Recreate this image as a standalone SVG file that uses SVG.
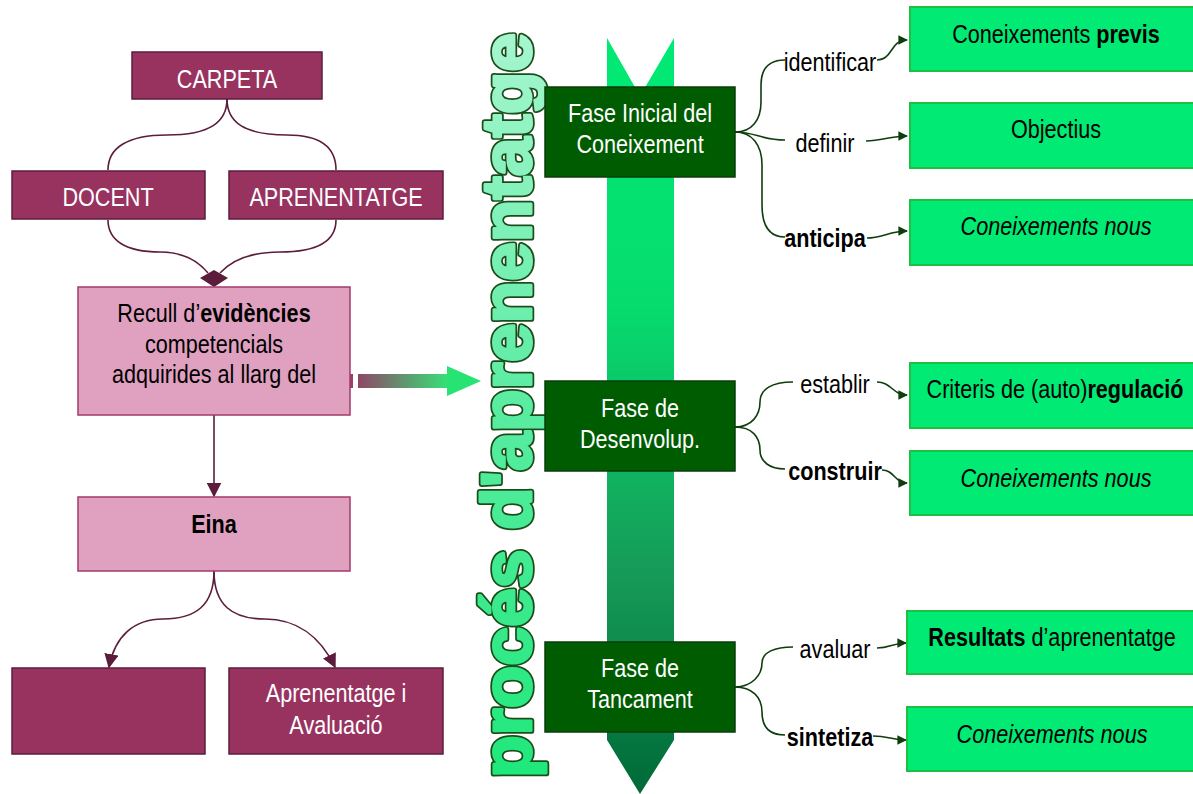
<svg xmlns="http://www.w3.org/2000/svg" xmlns:xlink="http://www.w3.org/1999/xlink" width="1193" height="794" viewBox="0 0 1193 794">
  <style>
    .t { font-family: "Liberation Sans", Arial, sans-serif; font-size: 25px; text-anchor: middle; }
    .w { fill: #ffffff; }
    .k { fill: #000000; }
    .b { font-weight: bold; }
    .i { font-style: italic; }
    .purple { fill: #98335f; stroke: #5c1d3c; stroke-width: 1.5; }
    .pink { fill: #e0a1c0; stroke: #a33a6b; stroke-width: 1.5; }
    .phase { fill: #005c00; stroke: #0b3d0b; stroke-width: 1.5; }
    .gbox { fill: #00ea74; stroke: #1fbf45; stroke-width: 2; }
    .pc { fill: none; stroke: #5c1d3c; stroke-width: 1.6; }
    .gc { fill: none; stroke: #0f3d0f; stroke-width: 1.6; }
    .title-outline { fill: #1b4d1b; stroke: #1b4d1b; stroke-width: 6.5; stroke-linejoin: round; }
    .title-fill { fill: url(#title); stroke: url(#title); stroke-width: 3; stroke-linejoin: round; }
  </style>
  <defs>
    <marker id="mp" viewBox="0 0 10 10" refX="9" refY="5" markerWidth="9" markerHeight="9" markerUnits="strokeWidth" orient="auto">
      <path d="M0,0 L10,5 L0,10 Z" fill="#5c1d3c"/>
    </marker>
    <marker id="mg" viewBox="0 0 10 10" refX="9" refY="5" markerWidth="6" markerHeight="6" markerUnits="strokeWidth" orient="auto">
      <path d="M0,0 L10,5 L0,10 Z" fill="#0f3d0f"/>
    </marker>
    <linearGradient id="shaft" gradientUnits="userSpaceOnUse" x1="0" y1="38" x2="0" y2="794">
      <stop offset="0" stop-color="#00ea74"/>
      <stop offset="0.35" stop-color="#06dc6e"/>
      <stop offset="0.7" stop-color="#169c58"/>
      <stop offset="1" stop-color="#006a38"/>
    </linearGradient>
    <linearGradient id="bar" gradientUnits="userSpaceOnUse" x1="358" y1="0" x2="447" y2="0">
      <stop offset="0" stop-color="#8e4766"/>
      <stop offset="1" stop-color="#38de78"/>
    </linearGradient>
    <linearGradient id="title" gradientUnits="userSpaceOnUse" x1="0" y1="0" x2="751" y2="0">
      <stop offset="0" stop-color="#1ee87a"/>
      <stop offset="0.5" stop-color="#5aeca2"/>
      <stop offset="1" stop-color="#a6f6cf"/>
    </linearGradient>
    <text id="titleText" x="3" y="0" textLength="745" lengthAdjust="spacingAndGlyphs" font-family="Liberation Sans, Arial, sans-serif" font-weight="bold" font-size="71">procés d'aprenentatge</text>
  </defs>

  <!-- central process arrow -->
  <polygon points="607,38 640,96 674,38 674,740 640,794 607,740" fill="url(#shaft)"/>

  <!-- vertical title: dark outline layer under a widened gradient layer -->
  <g id="title-vertical" transform="translate(531 781) rotate(-90)">
    <use xlink:href="#titleText" class="title-outline"/>
    <use xlink:href="#titleText" class="title-fill"/>
  </g>

  <!-- transfer arrow -->
  <g id="transfer">
    <rect x="337" y="374" width="3" height="14" fill="#9c3060"/>
    <rect x="345" y="374" width="8" height="14" fill="#9d3f66"/>
    <rect x="358" y="374" width="90" height="14" fill="url(#bar)"/>
    <polygon points="447,366 481,381 447,396" fill="#26e374"/>
  </g>

  <g id="connectors">
    <!-- left side -->
    <path class="pc" d="M227,99 C227,122 210,135 167,135 C127,135 108,148 108,170"/>
    <path class="pc" d="M227,99 C227,122 244,135 287,135 C322,135 336,148 336,170"/>
    <path class="pc" d="M108,220 C108,240 125,252 160,252 C185,252 199,262 208,273"/>
    <path class="pc" d="M336,220 C336,240 320,252 280,252 C248,252 230,262 220,273"/>
    <path d="M214,270 L228,278 L214,287 L200,278 Z" fill="#5c1d3c"/>
    <path class="pc" d="M214,415 L214,496" marker-end="url(#mp)"/>
    <path class="pc" d="M214,571 C214,605 196,619 163,619 C134,619 115,636 109,667" marker-end="url(#mp)"/>
    <path class="pc" d="M214,571 C214,605 232,619 265,619 C296,619 320,636 335,667" marker-end="url(#mp)"/>
    <!-- phase 1 -->
    <path class="gc" d="M735,132 C752,132 761,120 761,102 L761,85 C761,68 770,60 785,60"/>
    <path class="gc" d="M735,132 C755,132 762,140 785,140"/>
    <path class="gc" d="M735,132 C752,132 762,145 762,165 L762,205 C762,226 770,237 785,237"/>
    <path class="gc" d="M877,60 C893,60 890,40 907,40" marker-end="url(#mg)"/>
    <path class="gc" d="M866,141 C882,141 890,136 907,136" marker-end="url(#mg)"/>
    <path class="gc" d="M867,238 C882,238 890,231 907,231" marker-end="url(#mg)"/>
    <!-- phase 2 -->
    <path class="gc" d="M735,427 C752,427 760,415 760,402 C760,389 772,382 793,382"/>
    <path class="gc" d="M735,427 C752,427 760,437 760,450 C760,462 770,469 785,469"/>
    <path class="gc" d="M877,382 C891,382 893,395 907,395" marker-end="url(#mg)"/>
    <path class="gc" d="M882,470 C894,470 895,483 907,483" marker-end="url(#mg)"/>
    <!-- phase 3 -->
    <path class="gc" d="M735,687 C752,687 762,675 762,663 C762,652 775,647 793,647"/>
    <path class="gc" d="M735,687 C752,687 762,697 762,712 C762,727 770,735 785,735"/>
    <path class="gc" d="M877,648 C890,648 893,643 906,643" marker-end="url(#mg)"/>
    <path class="gc" d="M873,736 C888,736 892,740 906,740" marker-end="url(#mg)"/>
  </g>

  <!-- left column -->
  <g id="carpeta">
    <rect class="purple" x="132" y="52" width="190" height="47"/>
    <text class="t w" transform="translate(227 88) scale(.864 1)">CARPETA</text>
  </g>
  <g id="docent">
    <rect class="purple" x="12" y="171" width="193" height="48"/>
    <text class="t w" transform="translate(108 206) scale(.864 1)">DOCENT</text>
  </g>
  <g id="aprenentatge">
    <rect class="purple" x="229" y="171" width="214" height="48"/>
    <text class="t w" transform="translate(336 206) scale(.864 1)">APRENENTATGE</text>
  </g>
  <g id="recull">
    <rect class="pink" x="78" y="287" width="272" height="128"/>
    <text class="t k" transform="translate(214 322) scale(.864 1)">Recull d’<tspan class="b">evidències</tspan></text>
    <text class="t k" transform="translate(214 353) scale(.864 1)">competencials</text>
    <text class="t k" transform="translate(214 383) scale(.864 1)">adquirides al llarg del</text>
  </g>
  <g id="eina">
    <rect class="pink" x="78" y="497" width="272" height="74"/>
    <text class="t k b" transform="translate(214 533) scale(.864 1)">Eina</text>
  </g>
  <g id="empty-box">
    <rect class="purple" x="12" y="668" width="193" height="86"/>
  </g>
  <g id="avaluacio">
    <rect class="purple" x="229" y="668" width="214" height="86"/>
    <text class="t w" transform="translate(336 702) scale(.864 1)">Aprenentatge i</text>
    <text class="t w" transform="translate(336 734) scale(.864 1)">Avaluació</text>
  </g>

  <!-- phases -->
  <g id="fase-inicial">
    <rect class="phase" x="545" y="87" width="190" height="90"/>
    <text class="t w" transform="translate(640 122) scale(.864 1)">Fase Inicial del</text>
    <text class="t w" transform="translate(640 153) scale(.864 1)">Coneixement</text>
  </g>
  <g id="fase-desenvolupament">
    <rect class="phase" x="545" y="381" width="190" height="90"/>
    <text class="t w" transform="translate(640 417) scale(.864 1)">Fase de</text>
    <text class="t w" transform="translate(640 448) scale(.864 1)">Desenvolup.</text>
  </g>
  <g id="fase-tancament">
    <rect class="phase" x="545" y="642" width="190" height="90"/>
    <text class="t w" transform="translate(640 677) scale(.864 1)">Fase de</text>
    <text class="t w" transform="translate(640 708) scale(.864 1)">Tancament</text>
  </g>

  <!-- verbs -->
  <g id="verbs">
    <text class="t k" transform="translate(830 71) scale(.864 1)">identificar</text>
    <text class="t k" transform="translate(825 152) scale(.864 1)">definir</text>
    <text class="t k b" transform="translate(825 247) scale(.864 1)">anticipa</text>
    <text class="t k" transform="translate(835 393) scale(.864 1)">establir</text>
    <text class="t k b" transform="translate(835 480) scale(.864 1)">construir</text>
    <text class="t k" transform="translate(835 658) scale(.864 1)">avaluar</text>
    <text class="t k b" transform="translate(830 746) scale(.864 1)">sintetiza</text>
  </g>

  <!-- outcomes -->
  <g id="previs">
    <rect class="gbox" x="910" y="7" width="290" height="64"/>
    <text class="t k" transform="translate(1056 43) scale(.864 1)">Coneixements <tspan class="b">previs</tspan></text>
  </g>
  <g id="objectius">
    <rect class="gbox" x="910" y="103" width="290" height="65"/>
    <text class="t k" transform="translate(1056 138) scale(.864 1)">Objectius</text>
  </g>
  <g id="nous-1">
    <rect class="gbox" x="910" y="200" width="290" height="65"/>
    <text class="t k i" transform="translate(1056 235) scale(.864 1)">Coneixements nous</text>
  </g>
  <g id="regulacio">
    <rect class="gbox" x="910" y="363" width="290" height="65"/>
    <text class="t k" transform="translate(1055 398) scale(.864 1)">Criteris de (auto)<tspan class="b">regulació</tspan></text>
  </g>
  <g id="nous-2">
    <rect class="gbox" x="910" y="451" width="290" height="64"/>
    <text class="t k i" transform="translate(1056 487) scale(.864 1)">Coneixements nous</text>
  </g>
  <g id="resultats">
    <rect class="gbox" x="907" y="611" width="293" height="63"/>
    <text class="t k" transform="translate(1052 646) scale(.864 1)"><tspan class="b">Resultats</tspan> d’aprenentatge</text>
  </g>
  <g id="nous-3">
    <rect class="gbox" x="907" y="707" width="293" height="64"/>
    <text class="t k i" transform="translate(1052 743) scale(.864 1)">Coneixements nous</text>
  </g>
</svg>
